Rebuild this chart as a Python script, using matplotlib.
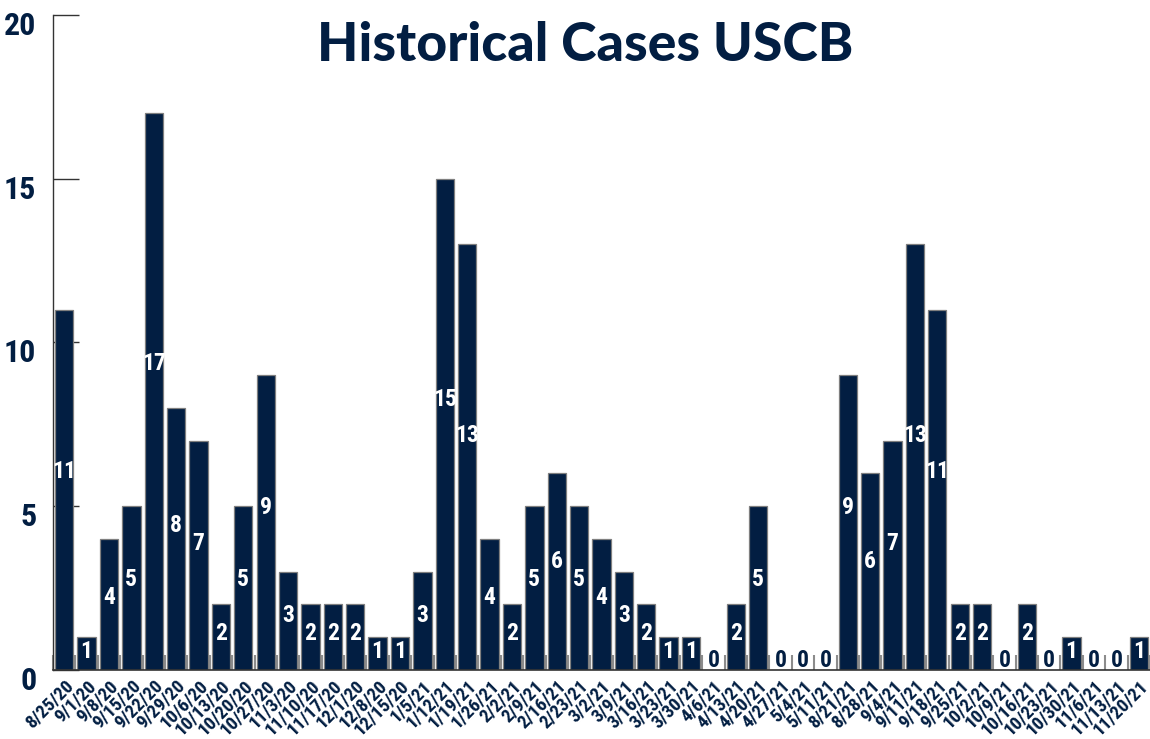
import matplotlib
matplotlib.use("Agg")
import matplotlib.pyplot as plt
import matplotlib.transforms as mtransforms
from matplotlib import font_manager
import numpy as np

# data
weeks = ["8/25/20", "9/1/20", "9/8/20", "9/15/20", "9/22/20", "9/29/20", "10/6/20",
         "10/13/20", "10/20/20", "10/27/20", "11/3/20", "11/10/20", "11/17/20", "12/1/20",
         "12/8/20", "12/15/20", "1/5/21", "1/12/21", "1/19/21", "1/26/21", "2/2/21",
         "2/9/21", "2/16/21", "2/23/21", "3/2/21", "3/9/21", "3/16/21", "3/23/21",
         "3/30/21", "4/6/21", "4/13/21", "4/20/21", "4/27/21", "5/4/21", "5/11/21",
         "8/21/21", "8/28/21", "9/4/21", "9/11/21", "9/18/21", "9/25/21", "10/2/21",
         "10/9/21", "10/16/21", "10/23/21", "10/30/21", "11/6/21", "11/13/21", "11/20/21"]
cases = [11, 1, 4, 5, 17, 8, 7, 2, 5, 9, 3, 2, 2, 2, 1, 1, 3, 15, 13, 4, 2, 5, 6, 5, 4,
         3, 2, 1, 1, 0, 2, 5, 0, 0, 0, 9, 6, 7, 13, 11, 2, 2, 0, 2, 0, 1, 0, 0, 1]
y_ticks = [0, 5, 10, 15, 20]

navy = "#021E42"

# look for a narrow / condensed face, the reference uses a condensed bold font
fonts = font_manager.fontManager.ttflist
narrow = None
for f in fonts:
    if f.name in ("Liberation Sans Narrow", "Roboto Condensed", "Open Sans Condensed"):
        narrow = dict(family=f.name)
        break
if narrow is None:
    cond = [f for f in fonts if f.name == "DejaVu Sans" and f.stretch in ("condensed", 500 - 125)]
    if cond:
        narrow = dict(family="DejaVu Sans", stretch="condensed")
    else:
        narrow = dict(family="Roboto")

fig = plt.figure(figsize=(11.5, 7.39), dpi=100)
ax = fig.add_axes([0.0461, 0.0934, 0.9539, 0.8863])

x = np.arange(len(cases))
ax.bar(x, cases, width=0.82, color=navy, edgecolor="#7f7f7f", linewidth=0.9, zorder=2)

# value labels, white inside the bars, navy for the zero weeks
for xi, v in zip(x, cases):
    ypos = max(0.55 * v, 0.3)
    ax.text(xi, ypos, str(v), ha="center", va="center", fontsize=17,
            fontweight="bold", color=navy if v == 0 else "white", zorder=3, **narrow)

ax.set_xlim(-0.5, len(cases) - 0.5)
ax.set_ylim(0, 20)

# axes styling
for s in ["top", "right"]:
    ax.spines[s].set_visible(False)
ax.spines["left"].set_color("#333333")
ax.spines["bottom"].set_color("#333333")
ax.spines["left"].set_linewidth(1.0)
ax.spines["bottom"].set_linewidth(1.2)

ax.set_yticks(y_ticks)
ax.set_yticklabels([str(t) for t in y_ticks], fontsize=23, fontweight="bold",
                   color=navy, **narrow)
ax.tick_params(axis="y", direction="in", length=19, width=1.0, color="#333333", pad=12)
# nudge y labels down a bit like the reference
offset = mtransforms.ScaledTranslation(0, -8 / 100, fig.dpi_scale_trans)
for lab in ax.get_yticklabels():
    lab.set_transform(lab.get_transform() + offset)

ax.set_xticks(x)
ax.set_xticklabels(weeks, rotation=45, ha="right", rotation_mode="anchor",
                   fontsize=13.5, fontweight="bold", color=navy, **narrow)
ax.tick_params(axis="x", length=0, pad=5)
# grey separators between the bars
ax.set_xticks(np.arange(len(cases) + 1) - 0.5, minor=True)
ax.tick_params(axis="x", which="minor", direction="in", length=11, width=1.5,
               color="#8c8c8c")

fig.text(0.509, 0.939, "Historical Cases USCB", ha="center", va="center",
         fontsize=38.5, fontweight="black", family=["Lato", "DejaVu Sans"], color=navy)

fig.savefig("out.png", dpi=100)
